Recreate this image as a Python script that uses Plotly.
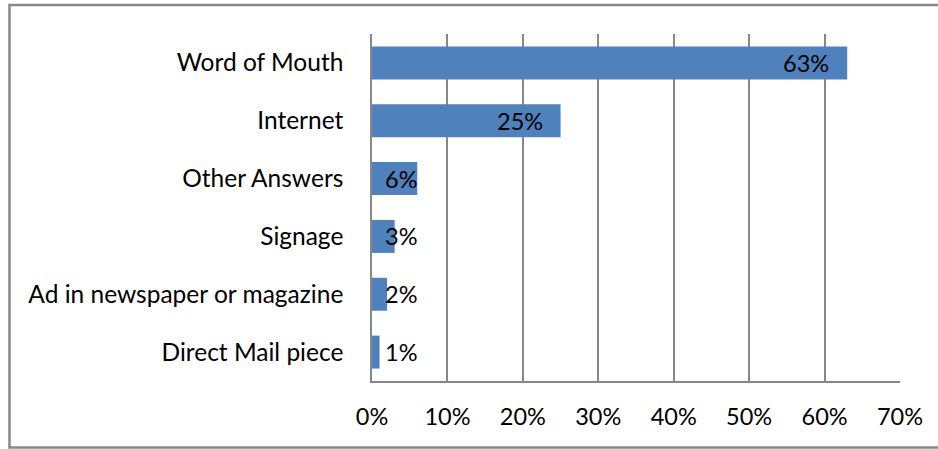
import plotly.graph_objects as go

categories = ["Word of Mouth", "Internet", "Other Answers", "Signage",
              "Ad in newspaper or magazine", "Direct Mail piece"]
values = [63, 25, 6, 3, 2, 1]
tick_vals = [0, 10, 20, 30, 40, 50, 60, 70]
tick_text = ["0%", "10%", "20%", "30%", "40%", "50%", "60%", "70%"]

W, H = 938, 449
L, R, T, B = 372, 38, 34, 68
plot_w = W - L - R
plot_h = H - T - B
px_per_unit = plot_w / 70.0

FONT = "Lato, Carlito, Calibri, sans-serif"
GRID = "#878787"

fig = go.Figure()
fig.add_trace(go.Bar(
    y=categories, x=values, orientation="h",
    marker=dict(color="#4F81BD", line=dict(width=0)),
    hoverinfo="skip",
))

# value labels at the inside end of each bar (kept readable on short bars)
for c, v in zip(categories, values):
    x_label = max(v - 16 / px_per_unit, 47 / px_per_unit)
    fig.add_annotation(x=x_label, y=c, text=f"{v}%", showarrow=False,
                       xanchor="right", yanchor="middle",
                       font=dict(family=FONT, size=23.5, color="#000000"))

# outer chart frame
def fx(px):
    return (px - L) / plot_w

def fy(py):
    return 1 - (py - T) / plot_h

fig.add_shape(type="rect", xref="paper", yref="paper",
              x0=fx(9.5), x1=fx(960), y0=fy(447.5), y1=fy(5),
              line=dict(color="#888888", width=2.5), layer="below")

fig.update_layout(
    width=W, height=H,
    margin=dict(l=L, r=R, t=T, b=B, pad=0),
    paper_bgcolor="white", plot_bgcolor="white",
    bargap=0.43, showlegend=False,
    font=dict(family=FONT, size=23.5, color="#000000"),
    xaxis=dict(range=[0, 70], tickvals=tick_vals, ticktext=tick_text,
               showgrid=True, gridcolor=GRID, gridwidth=1.5,
               zeroline=False, showline=True, linecolor=GRID, linewidth=1.5,
               ticks="", ticklabelstandoff=14, fixedrange=True,
               tickfont=dict(family=FONT, size=23.5)),
    yaxis=dict(autorange="reversed", showline=True, linecolor=GRID, linewidth=1.5,
               showgrid=False, ticks="", ticklabelstandoff=22,
               tickfont=dict(family=FONT, size=24.5), fixedrange=True),
)

fig.write_html("out.html")
